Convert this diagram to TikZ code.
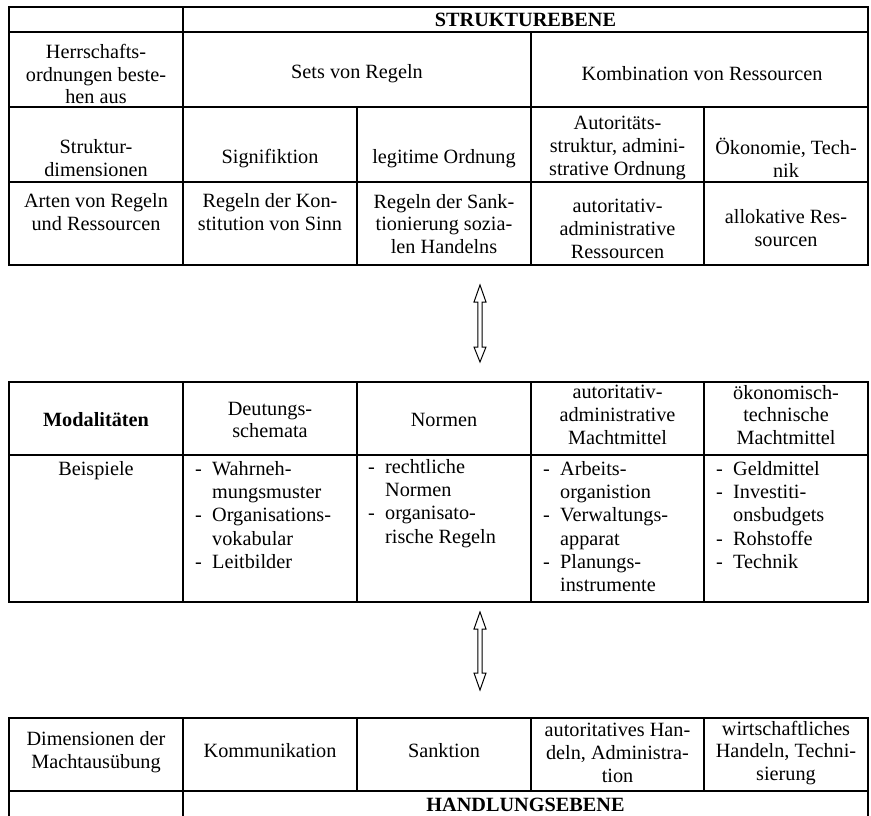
\documentclass[tikz,border=0pt]{standalone}
\usepackage{fontspec}
\setmainfont{Liberation Serif}
\begin{document}
\begin{tikzpicture}[x=1pt,y=-1pt,
  grid/.style={line width=2.5pt, line cap=rect},
  txt/.style={inner sep=0pt, align=center, font=\fontsize{20.25pt}{22.8pt}\selectfont},
  btxt/.style={txt, font=\fontsize{20.25pt}{22.8pt}\selectfont\bfseries},
  lst/.style={inner sep=0pt, align=left, anchor=west, font=\fontsize{20.25pt}{23.3pt}\selectfont},
  hollow/.style={draw=black, line width=1pt, fill=white, line join=miter}]
\path[use as bounding box] (0,0) rectangle (871,816);
\clip (0,0) rectangle (871,816);
\newcommand{\dsh}{\makebox[17pt][l]{-}}
\newcommand{\ind}{\hspace*{17pt}}

% ---------- top table ----------
\foreach \yy in {7,32,107,182,265} \draw[grid] (9,\yy) -- (868,\yy);
\foreach \xx in {9,183,868} \draw[grid] (\xx,7) -- (\xx,265);
\draw[grid] (531,32) -- (531,265);
\draw[grid] (357,107) -- (357,265);
\draw[grid] (704,107) -- (704,265);

\node[btxt] (struk) at (525.5,20) {STRUKTUREBENE};
\node[txt] (herr) at (96,74) {Herrschafts-\\ordnungen beste-\\hen aus};
\node[txt] (sets) at (357,74) {Sets von Regeln};
\node[txt] (komb) at (702,74) {Kombination von Ressourcen};
\node[txt] (sdim) at (96,158) {Struktur-\\dimensionen};
\node[txt] (sig) at (270,159) {Signifiktion};
\node[txt] (legit) at (444,159) {legitime Ordnung};
\node[txt] (auto) at (617.5,148) {Autoritäts-\\struktur, admini-\\strative Ordnung};
\node[txt] (oeko) at (786,158) {Ökonomie, Tech-\\nik};
\node[txt] (arten) at (96,212) {Arten von Regeln\\und Ressourcen};
\node[txt] (konst) at (270,212) {Regeln der Kon-\\stitution von Sinn};
\node[txt] (sank) at (444,224) {Regeln der Sank-\\tionierung sozia-\\len Handelns};
\node[txt] (autres) at (617.5,229) {autoritativ-\\administrative\\Ressourcen};
\node[txt] (alloc) at (786,228) {allokative Res-\\sourcen};

% ---------- arrow 1 ----------
\draw[hollow] (480,285) -- (486,302) -- (482.2,302) -- (482.2,347) -- (486,347)
  -- (480,362) -- (474,347) -- (477.8,347) -- (477.8,302) -- (474,302) -- cycle;

% ---------- middle table ----------
\foreach \yy in {382,455,602} \draw[grid] (9,\yy) -- (868,\yy);
\foreach \xx in {9,183,357,531,704,868} \draw[grid] (\xx,382) -- (\xx,602);

\node[btxt] (modal) at (96,420) {Modalitäten};
\node[txt] (deut) at (270,420) {Deutungs-\\schemata};
\node[txt] (norm) at (444,420) {Normen};
\node[txt] (autmm) at (617.5,415) {autoritativ-\\administrative\\Machtmittel};
\node[txt] (oekmm) at (786,415) {ökonomisch-\\technische\\Machtmittel};
\node[txt] (beisp) at (96,471) {Beispiele};
\node[lst] (l1) at (195,515) {\dsh Wahrneh-\\\ind mungsmuster\\\dsh Organisations-\\\ind vokabular\\\dsh Leitbilder};
\node[lst] (l2) at (368,503.5) {\dsh rechtliche\\\ind Normen\\\dsh organisato-\\\ind rische Regeln};
\node[lst] (l3) at (543,526.5) {\dsh Arbeits-\\\ind organistion\\\dsh Verwaltungs-\\\ind apparat\\\dsh Planungs-\\\ind instrumente};
\node[lst] (l4) at (716,515) {\dsh Geldmittel\\\dsh Investiti-\\\ind onsbudgets\\\dsh Rohstoffe\\\dsh Technik};

% ---------- arrow 2 ----------
\draw[hollow] (480,612) -- (486,629) -- (482.2,629) -- (482.2,673) -- (486,673)
  -- (480,690) -- (474,673) -- (477.8,673) -- (477.8,629) -- (474,629) -- cycle;

% ---------- bottom table ----------
\foreach \yy in {718,791,830} \draw[grid] (9,\yy) -- (868,\yy);
\foreach \xx in {9,183,868} \draw[grid] (\xx,718) -- (\xx,830);
\foreach \xx in {357,531,704} \draw[grid] (\xx,718) -- (\xx,791);

\node[txt] (dimm) at (96,752) {Dimensionen der\\Machtausübung};
\node[txt] (komm) at (270,751) {Kommunikation};
\node[txt] (sankt) at (444,751) {Sanktion};
\node[txt] (authd) at (617.5,753) {autoritatives Han-\\deln, Administra-\\tion};
\node[txt] (wirt) at (786,753) {wirtschaftliches\\Handeln, Techni-\\sierung};
\node[btxt] (hand) at (525.5,805) {HANDLUNGSEBENE};
\end{tikzpicture}
\end{document}
